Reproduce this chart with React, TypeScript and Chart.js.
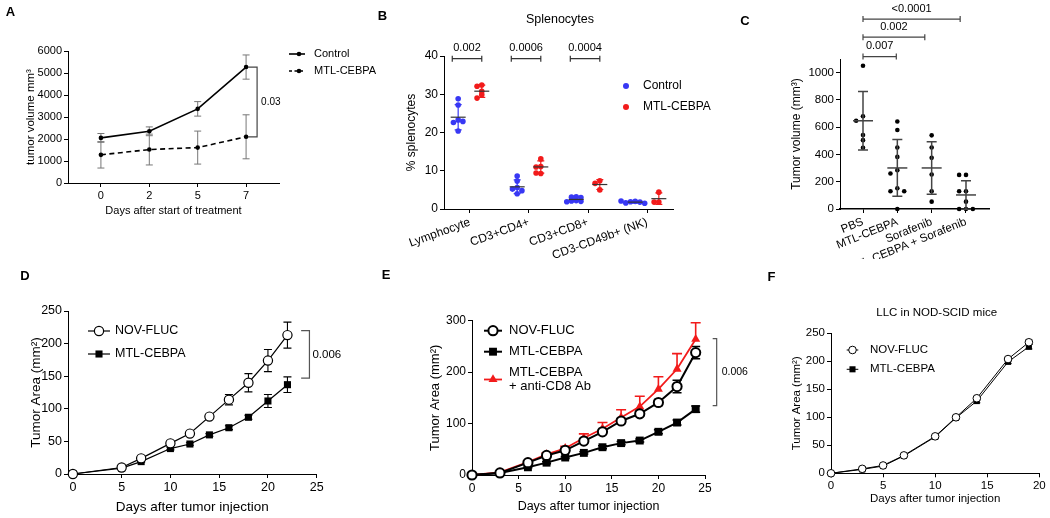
import React, { useEffect, useRef } from 'react';
import { Chart, registerables } from 'chart.js';

Chart.register(...registerables);

const W = 1050;
const H = 518;
const FONT = '"Liberation Sans", Arial, Helvetica, sans-serif';
const BLUE = '#3838f4';
const RED = '#f21b1b';

// ---------------- Panel A ----------------
const A_DAY_LABELS = ['0', '2', '5', '7'];
const A_CONTROL = [2050, 2350, 3370, 5270];
const A_CONTROL_SD = [200, 200, 330, 550];
const A_MTL = [1280, 1520, 1610, 2100];
const A_MTL_SD = [600, 700, 750, 1000];
const A_Y_TICKS = [0, 1000, 2000, 3000, 4000, 5000, 6000];

// ---------------- Panel B ----------------
const B_CATEGORIES = ['Lymphocyte', 'CD3+CD4+', 'CD3+CD8+', 'CD3-CD49b+ (NK)'];
const B_CONTROL = [
  [28.8, 27.2, 23.3, 22.6, 22.9, 20.4],
  [8.6, 7.3, 5.6, 5.2, 4.8, 4.0],
  [3.2, 3.1, 3.0, 2.2, 2.1, 2.0, 1.9],
  [2.0, 1.9, 1.8, 1.6, 1.5, 2.1],
];
const B_CONTROL_MEAN = [24.0, 5.8, 2.5, 1.8];
const B_CONTROL_SD = [3.3, 1.8, 0.5, 0.25];
const B_MTL = [
  [32.4, 32.1, 30.8, 29.9, 29.0],
  [13.1, 11.1, 11.0, 9.3, 9.4],
  [7.4, 6.7, 5.0],
  [4.4, 1.8, 1.8],
];
const B_MTL_MEAN = [30.8, 11.0, 6.4, 2.7];
const B_MTL_SD = [1.6, 1.6, 1.3, 1.5];
const B_P = ['0.002', '0.0006', '0.0004'];
const B_Y_TICKS = [0, 10, 20, 30, 40];

// ---------------- Panel C ----------------
const C_GROUPS = ['PBS', 'MTL-CEBPA', 'Sorafenib', 'MTL-CEBPA + Sorafenib'];
const C_VALUES = [
  [1050, 680, 647, 542, 505, 449],
  [642, 579, 451, 382, 285, 260, 152, 130, 130, 0],
  [540, 451, 375, 253, 130, 54],
  [250, 250, 130, 130, 54, 0, 0, 0],
];
const C_MEAN = [647, 301, 301, 103];
const C_SD = [215, 208, 192, 105];
const C_P = ['0.007', '0.002', '<0.0001'];
const C_P_TO = [0.97, 1.8, 2.83];
const C_P_LEVEL = [1118, 1260, 1393];
const C_Y_TICKS = [0, 200, 400, 600, 800, 1000];

// ---------------- Panel D ----------------
const D_DAYS = [0, 5, 7, 10, 12, 14, 16, 18, 20, 22];
const D_NOV = [0, 10, 24, 47, 62, 88, 114, 140, 174, 213];
const D_NOV_SEM = [0, 1, 2, 3, 3, 3, 8, 14, 17, 20];
const D_MTL = [0, 9, 19, 39, 46, 60, 71, 87, 112, 137];
const D_MTL_SEM = [0, 1, 1, 2, 2, 2, 3, 3, 10, 12];
const D_X_TICKS = [0, 5, 10, 15, 20, 25];
const D_Y_TICKS = [0, 50, 100, 150, 200, 250];

// ---------------- Panel E ----------------
const E_DAYS = [0, 3, 6, 8, 10, 12, 14, 16, 18, 20, 22, 24];
const E_NOV = [0, 4, 24, 38, 48, 66, 84, 105, 119, 141, 172, 238];
const E_NOV_SEM = [0, 1, 2, 2, 3, 4, 4, 5, 5, 6, 12, 12];
const E_MTL = [0, 4, 15, 24, 34, 43, 54, 62, 67, 84, 102, 128];
const E_MTL_SEM = [0, 1, 1, 2, 2, 2, 3, 3, 3, 4, 5, 6];
const E_CD8 = [0, 5, 25, 40, 52, 72, 90, 112, 133, 167, 206, 264];
const E_CD8_SEM = [0, 1, 2, 3, 4, 8, 12, 15, 20, 24, 30, 32];
const E_X_TICKS = [0, 5, 10, 15, 20, 25];
const E_Y_TICKS = [0, 100, 200, 300];

// ---------------- Panel F ----------------
const F_DAYS = [0, 3, 5, 7, 10, 12, 14, 17, 19];
const F_NOV = [0, 8, 14, 32, 66, 100, 134, 204, 234];
const F_NOV_SEM = [0, 1, 1, 2, 2, 3, 3, 3, 4];
const F_MTL = [0, 7, 13, 31, 65, 99, 129, 199, 226];
const F_MTL_SEM = [0, 1, 1, 2, 2, 2, 3, 3, 4];
const F_X_TICKS = [0, 5, 10, 15, 20];
const F_Y_TICKS = [0, 50, 100, 150, 200, 250];

// ---------------- helpers ----------------
type Area = { l: number; t: number; r: number; b: number };
type Marker = { style: 'circle' | 'rect' | 'triangle'; r: number; fill: string; stroke?: string; lw?: number };
type LegendItem = {
  y: number; ty?: number; x1?: number; x2?: number; mx: number; tx: number; text: string[];
  lineColor?: string; lineWidth?: number; dash?: number[]; marker: Marker; size: number; lineGap?: number;
};
type Summary = { x: number; mean: number; sd: number; meanColor: string; sdColor: string; meanHalf: number; capHalf: number; width: number };
type HBracket = { x1: number; x2: number; y: number; label: string; size: number; offset: number; cap: number; color: string };
type VBracket = { x: number; dx1: number; dx2: number; y1: number; y2: number; label: string; size: number; gap: number; color: string; width: number };
type TextItem = { x: number; y: number; text: string; size: number; align: CanvasTextAlign };
type Decor = { summaries?: Summary[]; h?: HBracket[]; v?: VBracket[]; legend?: LegendItem[]; texts?: TextItem[] };

function swarm(values: number[], center: number, minDist: number, step: number) {
  const placed: { x: number; y: number; slot: number }[] = [];
  const slots = [0, -1, 1, -2, 2, -3, 3, -4, 4];
  values.forEach((v) => {
    let chosen = 0;
    for (const s of slots) {
      const ok = placed.every((p) => !(p.slot === s && Math.abs(p.y - v) < minDist));
      if (ok) { chosen = s; break; }
    }
    placed.push({ x: center + chosen * step, y: v, slot: chosen });
  });
  return placed.map((p) => ({ x: p.x, y: p.y }));
}

function drawMarker(ctx: CanvasRenderingContext2D, m: Marker, x: number, y: number) {
  ctx.beginPath();
  if (m.style === 'circle') {
    ctx.arc(x, y, m.r, 0, Math.PI * 2);
  } else if (m.style === 'rect') {
    const s = m.r * Math.SQRT1_2;
    ctx.rect(x - s, y - s, 2 * s, 2 * s);
  } else {
    for (let k = 0; k < 3; k++) {
      const a = (k * 2 * Math.PI) / 3;
      const px = x + Math.sin(a) * m.r;
      const py = y - Math.cos(a) * m.r;
      if (k === 0) ctx.moveTo(px, py); else ctx.lineTo(px, py);
    }
    ctx.closePath();
  }
  if (m.fill) { ctx.fillStyle = m.fill; ctx.fill(); }
  if (m.stroke && m.lw) { ctx.strokeStyle = m.stroke; ctx.lineWidth = m.lw; ctx.stroke(); }
}

function drawErrorBars(chart: any) {
  const ctx: CanvasRenderingContext2D = chart.ctx;
  const xs = chart.scales.x;
  const ys = chart.scales.y;
  chart.data.datasets.forEach((ds: any) => {
    if (!ds.errors) return;
    ctx.save();
    ctx.strokeStyle = ds.errorColor || '#000';
    ctx.lineWidth = ds.errorWidth || 1;
    ds.data.forEach((p: any, j: number) => {
      const e = ds.errors[j];
      if (!e) return;
      const x = xs.getPixelForValue(p.x);
      const yHi = ys.getPixelForValue(p.y + e);
      const yLo = ds.upperOnly ? ys.getPixelForValue(p.y) : ys.getPixelForValue(p.y - e);
      const c = ds.capHalf || 4;
      ctx.beginPath();
      ctx.moveTo(x, yLo);
      ctx.lineTo(x, yHi);
      ctx.moveTo(x - c, yHi);
      ctx.lineTo(x + c, yHi);
      if (!ds.upperOnly) {
        ctx.moveTo(x - c, yLo);
        ctx.lineTo(x + c, yLo);
      }
      ctx.stroke();
    });
    ctx.restore();
  });
}

function decorPlugin(d: Decor) {
  return {
    id: 'decor',
    beforeDatasetsDraw(chart: any) {
      drawErrorBars(chart);
    },
    afterDatasetsDraw(chart: any) {
      const ctx: CanvasRenderingContext2D = chart.ctx;
      const xs = chart.scales.x;
      const ys = chart.scales.y;
      (d.summaries || []).forEach((s) => {
        const x = xs.getPixelForValue(s.x);
        const ym = ys.getPixelForValue(s.mean);
        const yt = ys.getPixelForValue(s.mean + s.sd);
        const yb = ys.getPixelForValue(s.mean - s.sd);
        ctx.save();
        ctx.lineWidth = s.width;
        ctx.strokeStyle = s.sdColor;
        ctx.beginPath();
        ctx.moveTo(x, yt); ctx.lineTo(x, yb);
        ctx.moveTo(x - s.capHalf, yt); ctx.lineTo(x + s.capHalf, yt);
        ctx.moveTo(x - s.capHalf, yb); ctx.lineTo(x + s.capHalf, yb);
        ctx.stroke();
        ctx.strokeStyle = s.meanColor;
        ctx.beginPath();
        ctx.moveTo(x - s.meanHalf, ym); ctx.lineTo(x + s.meanHalf, ym);
        ctx.stroke();
        ctx.restore();
      });
    },
    afterDraw(chart: any) {
      const ctx: CanvasRenderingContext2D = chart.ctx;
      const xs = chart.scales.x;
      const ys = chart.scales.y;
      ctx.save();
      ctx.textBaseline = 'middle';
      (d.h || []).forEach((b) => {
        const x1 = xs.getPixelForValue(b.x1);
        const x2 = xs.getPixelForValue(b.x2);
        const y = ys.getPixelForValue(b.y);
        ctx.strokeStyle = b.color;
        ctx.lineWidth = 1.2;
        ctx.beginPath();
        ctx.moveTo(x1, y); ctx.lineTo(x2, y);
        ctx.moveTo(x1, y - b.cap); ctx.lineTo(x1, y + b.cap);
        ctx.moveTo(x2, y - b.cap); ctx.lineTo(x2, y + b.cap);
        ctx.stroke();
        ctx.fillStyle = '#000';
        ctx.font = `${b.size}px ${FONT}`;
        ctx.textAlign = 'center';
        ctx.fillText(b.label, (x1 + x2) / 2, y - b.offset);
      });
      (d.v || []).forEach((b) => {
        const xp = xs.getPixelForValue(b.x);
        const y1 = ys.getPixelForValue(b.y1);
        const y2 = ys.getPixelForValue(b.y2);
        ctx.strokeStyle = b.color;
        ctx.lineWidth = b.width;
        ctx.beginPath();
        ctx.moveTo(xp + b.dx1, y1);
        ctx.lineTo(xp + b.dx2, y1);
        ctx.lineTo(xp + b.dx2, y2);
        ctx.lineTo(xp + b.dx1, y2);
        ctx.stroke();
        ctx.fillStyle = '#000';
        ctx.font = `${b.size}px ${FONT}`;
        ctx.textAlign = 'left';
        ctx.fillText(b.label, xp + b.dx2 + b.gap, (y1 + y2) / 2);
      });
      (d.legend || []).forEach((it) => {
        if (it.x1 !== undefined && it.x2 !== undefined) {
          ctx.save();
          ctx.strokeStyle = it.lineColor || '#000';
          ctx.lineWidth = it.lineWidth || 1;
          ctx.setLineDash(it.dash || []);
          ctx.beginPath();
          ctx.moveTo(it.x1, it.y);
          ctx.lineTo(it.x2, it.y);
          ctx.stroke();
          ctx.restore();
        }
        drawMarker(ctx, it.marker, it.mx, it.y);
        ctx.fillStyle = '#000';
        ctx.font = `${it.size}px ${FONT}`;
        ctx.textAlign = 'left';
        ctx.textBaseline = 'middle';
        const ty = it.ty !== undefined ? it.ty : it.y;
        it.text.forEach((t, k) => ctx.fillText(t, it.tx, ty + k * (it.lineGap || 0)));
      });
      (d.texts || []).forEach((t) => {
        ctx.fillStyle = '#000';
        ctx.font = `${t.size}px ${FONT}`;
        ctx.textAlign = t.align;
        ctx.fillText(t.text, t.x, t.y);
      });
      ctx.restore();
    },
  };
}

function baseOptions(area: Area, yw: number, xh: number) {
  return {
    responsive: false,
    maintainAspectRatio: false,
    animation: false,
    devicePixelRatio: 1,
    events: [],
    layout: { padding: { left: area.l - yw, top: area.t, right: W - area.r, bottom: H - area.b - xh } },
    plugins: { legend: { display: false }, tooltip: { enabled: false }, title: { display: false } },
    elements: { line: { tension: 0 } },
  };
}

function yAxis(o: { min: number; max: number; ticks: number[]; size: number; title?: string; titleSize?: number; yw: number }) {
  return {
    type: 'linear',
    position: 'left',
    min: o.min,
    max: o.max,
    afterFit: (s: any) => { s.width = o.yw; },
    afterBuildTicks: (s: any) => { s.ticks = o.ticks.map((v) => ({ value: v })); },
    border: { display: true, color: '#000', width: 1 },
    grid: { display: true, drawOnChartArea: false, drawTicks: true, tickLength: 4, color: '#000', lineWidth: 1 },
    ticks: { color: '#000', font: { family: FONT, size: o.size }, padding: 2, callback: (v: number) => String(v) },
    title: {
      display: !!o.title, text: o.title || '', color: '#000',
      font: { family: FONT, size: o.titleSize || o.size, lineHeight: 1.2 }, padding: 0,
    },
  };
}

function xAxis(o: {
  min: number; max: number; ticks: number[]; labels?: string[]; size: number; title?: string; titleSize?: number;
  xh: number; rot?: number; dash?: number[]; borderWidth?: number;
}) {
  return {
    type: 'linear',
    position: 'bottom',
    min: o.min,
    max: o.max,
    afterFit: (s: any) => { s.height = o.xh; },
    afterBuildTicks: (s: any) => { s.ticks = o.ticks.map((v) => ({ value: v })); },
    border: { display: true, color: '#000', width: o.borderWidth || 1, dash: o.dash || [] },
    grid: { display: true, drawOnChartArea: false, drawTicks: true, tickLength: 4, color: '#000', lineWidth: 1 },
    ticks: {
      color: '#000', font: { family: FONT, size: o.size }, padding: 2, autoSkip: false,
      minRotation: o.rot || 0, maxRotation: o.rot || 0,
      callback: (v: number, i: number) => (o.labels ? o.labels[i] : String(v)),
    },
    title: {
      display: !!o.title, text: o.title || '', color: '#000',
      font: { family: FONT, size: o.titleSize || o.size, lineHeight: 1.2 }, padding: 0,
    },
  };
}

const xy = (xsArr: number[], ysArr: number[]) => xsArr.map((x, i) => ({ x, y: ysArr[i] }));

// ---------------- panels ----------------
function makeA() {
  const area = { l: 68, t: 51, r: 279, b: 183 };
  const yw = 43.9;
  const xh = 34.1;
  const idx = A_DAY_LABELS.map((_, i) => i);
  return {
    type: 'line',
    data: {
      datasets: [
        {
          data: xy(idx, A_CONTROL), borderColor: '#000', borderWidth: 1.6, pointRadius: 2.3,
          pointBackgroundColor: '#000', pointBorderWidth: 0, errors: A_CONTROL_SD, errorColor: '#777', capHalf: 3.5, clip: false,
        },
        {
          data: xy(idx, A_MTL), borderColor: '#000', borderWidth: 1.6, borderDash: [5, 3.5], pointRadius: 2.3,
          pointBackgroundColor: '#000', pointBorderWidth: 0, errors: A_MTL_SD, errorColor: '#777', capHalf: 3.5, clip: false,
        },
      ],
    },
    options: {
      ...baseOptions(area, yw, xh),
      scales: {
        x: xAxis({ min: -0.68, max: 3.68, ticks: idx, labels: A_DAY_LABELS, size: 11, title: 'Days after start of treatment', titleSize: 11, xh }),
        y: yAxis({ min: 0, max: 6000, ticks: A_Y_TICKS, size: 11, title: 'tumor volume mm³', titleSize: 11.5, yw }),
      },
    },
    plugins: [
      decorPlugin({
        v: [{ x: 3, dx1: 2, dx2: 11, y1: A_CONTROL[3], y2: A_MTL[3], label: '0.03', size: 10, gap: 4, color: '#444', width: 1.2 }],
        legend: [
          { y: 54, x1: 289, x2: 305, mx: 299, tx: 314, text: ['Control'], lineColor: '#000', lineWidth: 1.6, marker: { style: 'circle', r: 2.3, fill: '#000' }, size: 11 },
          { y: 71, x1: 289, x2: 305, mx: 299, tx: 314, text: ['MTL-CEBPA'], lineColor: '#000', lineWidth: 1.6, dash: [3, 2.5], marker: { style: 'circle', r: 2.3, fill: '#000' }, size: 11 },
        ],
      }),
    ],
  };
}

function makeB() {
  const area = { l: 444, t: 56, r: 673, b: 209 };
  const yw = 39.2;
  const xh = 60;
  const ctrl = B_CONTROL.flatMap((vals, i) => swarm(vals, i - 0.2, 0.9, 0.08));
  const mtl = B_MTL.flatMap((vals, i) => swarm(vals, i + 0.2, 0.9, 0.08));
  const summaries: Summary[] = [
    ...B_CONTROL_MEAN.map((m, i) => ({ x: i - 0.2, mean: m, sd: B_CONTROL_SD[i], meanColor: '#333', sdColor: BLUE, meanHalf: 7.5, capHalf: 3.5, width: 1.2 })),
    ...B_MTL_MEAN.map((m, i) => ({ x: i + 0.2, mean: m, sd: B_MTL_SD[i], meanColor: '#333', sdColor: RED, meanHalf: 7.5, capHalf: 3.5, width: 1.2 })),
  ];
  const idx = B_CATEGORIES.map((_, i) => i);
  return {
    type: 'scatter',
    data: {
      datasets: [
        { data: ctrl, backgroundColor: BLUE, pointRadius: 2.8, pointBorderWidth: 0, borderWidth: 0, clip: false },
        { data: mtl, backgroundColor: RED, pointRadius: 2.8, pointBorderWidth: 0, borderWidth: 0, clip: false },
      ],
    },
    options: {
      ...baseOptions(area, yw, xh),
      scales: {
        x: xAxis({ min: -0.44, max: 3.44, ticks: idx, labels: B_CATEGORIES, size: 12, xh, rot: 20 }),
        y: yAxis({ min: 0, max: 40, ticks: B_Y_TICKS, size: 12, title: '% splenocytes', titleSize: 12, yw }),
      },
    },
    plugins: [
      decorPlugin({
        summaries,
        h: B_P.map((p, i) => ({ x1: i - 0.3, x2: i + 0.2, y: 39.3, label: p, size: 11, offset: 10.5, cap: 3, color: '#333' })),
        legend: [
          { y: 86, mx: 626, tx: 643, text: ['Control'], marker: { style: 'circle', r: 3, fill: BLUE }, size: 12 },
          { y: 107, mx: 626, tx: 643, text: ['MTL-CEBPA'], marker: { style: 'circle', r: 3, fill: RED }, size: 12 },
        ],
        texts: [{ x: 560, y: 20, text: 'Splenocytes', size: 12.5, align: 'center' }],
      }),
    ],
  };
}

function makeC() {
  const area = { l: 840, t: 59, r: 989, b: 209 };
  const yw = 50.2;
  const xh = 50;
  const pts = C_VALUES.flatMap((vals, i) => swarm(vals, i, 35, 0.2));
  const idx = C_GROUPS.map((_, i) => i);
  return {
    type: 'scatter',
    data: {
      datasets: [{ data: pts, backgroundColor: '#000', pointRadius: 2.3, pointBorderWidth: 0, borderWidth: 0, clip: false }],
    },
    options: {
      ...baseOptions(area, yw, xh),
      scales: {
        x: xAxis({ min: -0.67, max: 3.67, ticks: idx, labels: C_GROUPS, size: 11.5, xh, rot: 22, dash: [2, 2], borderWidth: 1.4 }),
        y: yAxis({ min: 0, max: 1100, ticks: C_Y_TICKS, size: 11.5, title: 'Tumor volume (mm³)', titleSize: 12, yw }),
      },
    },
    plugins: [
      decorPlugin({
        summaries: C_MEAN.map((m, i) => ({ x: i, mean: m, sd: C_SD[i], meanColor: '#444', sdColor: '#444', meanHalf: 10, capHalf: 5, width: 1.5 })),
        h: C_P.map((p, i) => ({ x1: 0, x2: C_P_TO[i], y: C_P_LEVEL[i], label: p, size: 11, offset: 10.5, cap: 3, color: '#444' })),
      }),
    ],
  };
}

function makeD() {
  const area = { l: 68, t: 311, r: 316.7, b: 474 };
  const yw = 40.1;
  const xh = 41.1;
  return {
    type: 'line',
    data: {
      datasets: [
        {
          data: xy(D_DAYS, D_NOV), borderColor: '#000', borderWidth: 1.2, pointStyle: 'circle', pointRadius: 4.6,
          pointBackgroundColor: '#fff', pointBorderColor: '#000', pointBorderWidth: 1.2, errors: D_NOV_SEM, capHalf: 4, errorWidth: 1.1, clip: false,
        },
        {
          data: xy(D_DAYS, D_MTL), borderColor: '#000', borderWidth: 1.2, pointStyle: 'rect', pointRadius: 5,
          pointBackgroundColor: '#000', pointBorderColor: '#000', pointBorderWidth: 0, errors: D_MTL_SEM, capHalf: 4, errorWidth: 1.1, clip: false,
        },
      ],
    },
    options: {
      ...baseOptions(area, yw, xh),
      scales: {
        x: xAxis({ min: -0.5, max: 25, ticks: D_X_TICKS, size: 12.5, title: 'Days after tumor injection', titleSize: 13.5, xh }),
        y: yAxis({ min: 0, max: 250, ticks: D_Y_TICKS, size: 12.5, title: 'Tumor Area (mm²)', titleSize: 13.5, yw }),
      },
    },
    plugins: [
      decorPlugin({
        v: [{ x: 22, dx1: 13.7, dx2: 22, y1: 220, y2: 147, label: '0.006', size: 11.5, gap: 3, color: '#555', width: 1.2 }],
        legend: [
          { y: 331, x1: 88, x2: 110, mx: 99, tx: 115, text: ['NOV-FLUC'], lineColor: '#000', lineWidth: 1.2, marker: { style: 'circle', r: 4.6, fill: '#fff', stroke: '#000', lw: 1.2 }, size: 12.5 },
          { y: 354, x1: 88, x2: 110, mx: 99, tx: 115, text: ['MTL-CEBPA'], lineColor: '#000', lineWidth: 1.2, marker: { style: 'rect', r: 5, fill: '#000' }, size: 12.5 },
        ],
      }),
    ],
  };
}

function makeE() {
  const area = { l: 472, t: 320.7, r: 705, b: 475 };
  const yw = 44.8;
  const xh = 39.2;
  return {
    type: 'line',
    data: {
      datasets: [
        {
          data: xy(E_DAYS, E_NOV), borderColor: '#000', borderWidth: 2, pointStyle: 'circle', pointRadius: 4.6,
          pointBackgroundColor: '#fff', pointBorderColor: '#000', pointBorderWidth: 2, errors: E_NOV_SEM, capHalf: 4.5, errorWidth: 1.5, clip: false,
        },
        {
          data: xy(E_DAYS, E_MTL), borderColor: '#000', borderWidth: 2, pointStyle: 'rect', pointRadius: 5.6,
          pointBackgroundColor: '#000', pointBorderWidth: 0, errors: E_MTL_SEM, capHalf: 4.5, errorWidth: 1.5, clip: false,
        },
        {
          data: xy(E_DAYS, E_CD8), borderColor: RED, borderWidth: 1.8, pointStyle: 'triangle', pointRadius: 5.2,
          pointBackgroundColor: RED, pointBorderColor: RED, pointBorderWidth: 0, errors: E_CD8_SEM, errorColor: RED, upperOnly: true, capHalf: 5, errorWidth: 1.6, clip: false,
        },
      ],
    },
    options: {
      ...baseOptions(area, yw, xh),
      scales: {
        x: xAxis({ min: 0, max: 25, ticks: E_X_TICKS, size: 12, title: 'Days after tumor injection', titleSize: 12.5, xh }),
        y: yAxis({ min: 0, max: 300, ticks: E_Y_TICKS, size: 12, title: 'Tumor Area (mm²)', titleSize: 13, yw }),
      },
    },
    plugins: [
      decorPlugin({
        v: [{ x: 24, dx1: 17, dx2: 21, y1: 265, y2: 135, label: '0.006', size: 10.5, gap: 5, color: '#555', width: 1.2 }],
        legend: [
          { y: 330.7, x1: 484, x2: 502, mx: 493, tx: 509, text: ['NOV-FLUC'], lineColor: '#000', lineWidth: 2, marker: { style: 'circle', r: 4.6, fill: '#fff', stroke: '#000', lw: 2 }, size: 13 },
          { y: 351.7, x1: 484, x2: 502, mx: 493, tx: 509, text: ['MTL-CEBPA'], lineColor: '#000', lineWidth: 2, marker: { style: 'rect', r: 5.6, fill: '#000' }, size: 13 },
          { y: 379.5, ty: 372.7, x1: 484, x2: 502, mx: 493, tx: 509, text: ['MTL-CEBPA', '+ anti-CD8 Ab'], lineGap: 13.6, lineColor: RED, lineWidth: 1.8, marker: { style: 'triangle', r: 5.2, fill: RED }, size: 13 },
        ],
      }),
    ],
  };
}

function makeF() {
  const area = { l: 831, t: 333.3, r: 1039.3, b: 473.3 };
  const yw = 41.2;
  const xh = 32.6;
  return {
    type: 'line',
    data: {
      datasets: [
        {
          data: xy(F_DAYS, F_NOV), borderColor: '#000', borderWidth: 1, pointStyle: 'circle', pointRadius: 3.8,
          pointBackgroundColor: '#fff', pointBorderColor: '#000', pointBorderWidth: 1, errors: F_NOV_SEM, capHalf: 3.5, clip: false,
        },
        {
          data: xy(F_DAYS, F_MTL), borderColor: '#000', borderWidth: 1, pointStyle: 'rect', pointRadius: 4.3,
          pointBackgroundColor: '#000', pointBorderWidth: 0, errors: F_MTL_SEM, capHalf: 3.5, clip: false,
        },
      ],
    },
    options: {
      ...baseOptions(area, yw, xh),
      scales: {
        x: xAxis({ min: 0, max: 20, ticks: F_X_TICKS, size: 11.5, title: 'Days after tumor injection', titleSize: 11.5, xh }),
        y: yAxis({ min: 0, max: 250, ticks: F_Y_TICKS, size: 11.5, title: 'Tumor Area (mm²)', titleSize: 11.5, yw }),
      },
    },
    plugins: [
      decorPlugin({
        legend: [
          { y: 350, x1: 846.7, x2: 858.3, mx: 852.5, tx: 870, text: ['NOV-FLUC'], lineColor: '#000', lineWidth: 1, marker: { style: 'circle', r: 3.8, fill: '#fff', stroke: '#000', lw: 1 }, size: 11.5 },
          { y: 369.3, x1: 846.7, x2: 858.3, mx: 852.5, tx: 870, text: ['MTL-CEBPA'], lineColor: '#000', lineWidth: 1, marker: { style: 'rect', r: 4.3, fill: '#000' }, size: 11.5 },
        ],
        texts: [{ x: 936.7, y: 313, text: 'LLC in NOD-SCID mice', size: 11.5, align: 'center' }],
      }),
    ],
  };
}

const PANELS = [makeA, makeB, makeC, makeD, makeE, makeF];
const LETTERS = [
  { t: 'A', x: 10.5, y: 11 },
  { t: 'B', x: 382.5, y: 15.8 },
  { t: 'C', x: 745, y: 20.5 },
  { t: 'D', x: 25, y: 275 },
  { t: 'E', x: 386, y: 274 },
  { t: 'F', x: 771.5, y: 276 },
];

function ChartCanvas({ make }: { make: () => any }) {
  const ref = useRef<HTMLCanvasElement | null>(null);
  useEffect(() => {
    if (!ref.current) return;
    const chart = new Chart(ref.current, make());
    return () => chart.destroy();
  }, [make]);
  return (
    <canvas
      ref={ref}
      width={W}
      height={H}
      style={{ position: 'absolute', left: 0, top: 0, width: W, height: H }}
    />
  );
}

export default function App() {
  return (
    <div style={{ position: 'absolute', left: 0, top: 0, width: W, height: H, background: '#fff', overflow: 'hidden' }}>
      {PANELS.map((make, i) => (
        <ChartCanvas key={i} make={make} />
      ))}
      {LETTERS.map((l) => (
        <div
          key={l.t}
          style={{
            position: 'absolute', left: l.x - 10, top: l.y - 7.5, width: 20, height: 15, lineHeight: '15px',
            textAlign: 'center', fontFamily: FONT, fontWeight: 'bold', fontSize: 13, color: '#000',
          }}
        >
          {l.t}
        </div>
      ))}
    </div>
  );
}
